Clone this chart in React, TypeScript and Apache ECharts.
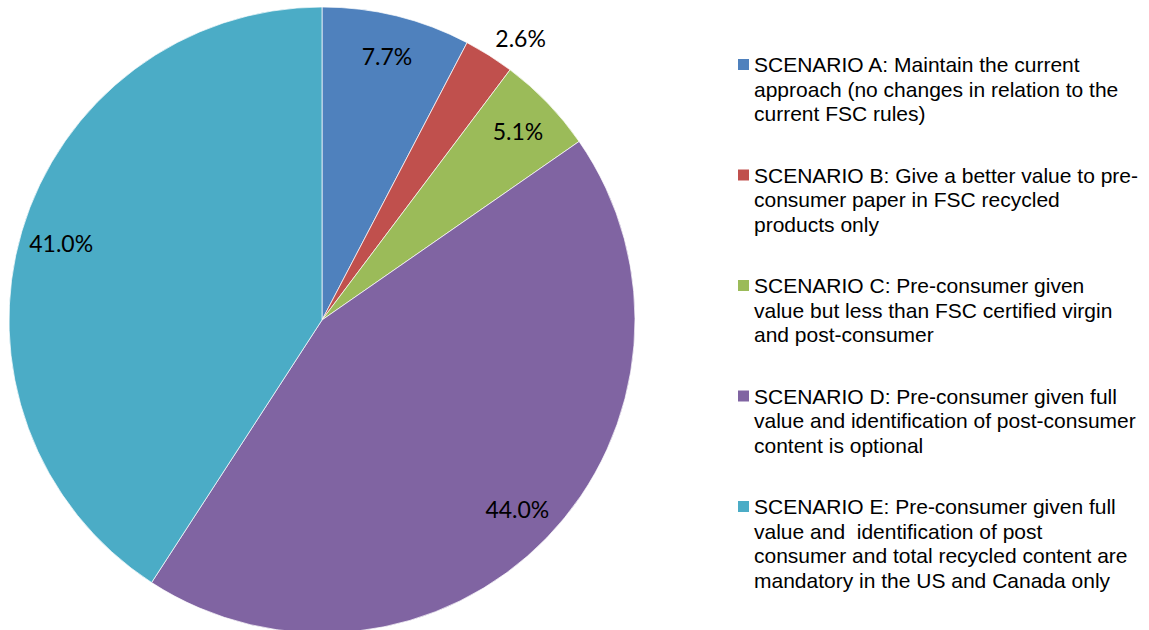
import React, { useEffect, useRef } from "react";
import * as echarts from "echarts";

const names = [
  "SCENARIO A: Maintain the current approach (no changes in relation to the current FSC rules)",
  "SCENARIO B: Give a better value to pre-consumer paper in FSC recycled products only",
  "SCENARIO C: Pre-consumer given value but less than FSC certified virgin and post-consumer",
  "SCENARIO D: Pre-consumer given full value and identification of post-consumer content is optional",
  "SCENARIO E: Pre-consumer given full value and identification of post consumer and total recycled content are mandatory in the US and Canada only",
];
const nameLines = [
  ["SCENARIO A: Maintain the current", "approach (no changes in relation to the", "current FSC rules)"],
  ["SCENARIO B: Give a better value to pre-", "consumer paper in FSC recycled", "products only"],
  ["SCENARIO C: Pre-consumer given", "value but less than FSC certified virgin", "and post-consumer"],
  ["SCENARIO D: Pre-consumer given full", "value and identification of post-consumer", "content is optional"],
  ["SCENARIO E: Pre-consumer given full", "value and  identification of post", "consumer and total recycled content are", "mandatory in the US and Canada only"],
];
const values = [7.7, 2.6, 5.1, 44.0, 41.0];
const colors = ["#4F81BD", "#C0504D", "#9BBB59", "#8064A2", "#4BACC6"];
const outsideLabel = [false, true, false, false, false];

export default function App() {
  const ref = useRef<HTMLDivElement>(null);
  useEffect(() => {
    if (!ref.current) return;
    const chart = echarts.init(ref.current, null, { renderer: "svg" });
    const rich: any = {
      t: { fontSize: 21, fontFamily: "Liberation Sans", lineHeight: 24.5, color: "#000" },
      gap: { width: 5, lineHeight: 24.5 },
      ind: { width: 16, lineHeight: 24.5 },
    };
    colors.forEach((c, i) => {
      rich["sq" + i] = { width: 11, height: 11, backgroundColor: c, lineHeight: 24.5 };
    });
    chart.setOption({
      animation: false,
      color: colors,
      legend: {
        orient: "vertical",
        left: 728,
        top: 49,
        itemGap: 40.5,
        icon: "none",
        itemWidth: 0,
        selectedMode: false,
        data: names,
        formatter: (name: string) => {
          const i = names.indexOf(name);
          return nameLines[i]
            .map((l, j) => (j === 0 ? `{sq${i}|}{gap|}` : `{ind|}`) + `{t|${l}}`)
            .join("\n");
        },
        textStyle: { fontFamily: "Liberation Sans", fontSize: 21, rich },
      },
      series: [
        {
          type: "pie",
          center: [322, 320],
          radius: [0, 313],
          startAngle: 90,
          clockwise: true,
          silent: true,
          label: { show: false },
          labelLine: { show: false },
          itemStyle: { borderColor: "#fff", borderWidth: 0.7 },
          data: names.map((n, i) => ({ name: n, value: values[i], itemStyle: { color: colors[i] } })),
        },
        {
          type: "pie",
          center: [322, 320],
          radius: [225, 313],
          startAngle: 90,
          clockwise: true,
          silent: true,
          avoidLabelOverlap: false,
          itemStyle: { color: "rgba(0,0,0,0)" },
          emphasis: { disabled: true },
          label: {
            show: true,
            position: "inside",
            fontFamily: "Lato",
            fontSize: 23,
            color: "#000",
            formatter: (p: any) => p.value.toFixed(1) + "%",
          },
          labelLine: { show: false },
          data: names.map((n, i) =>
            outsideLabel[i]
              ? {
                  name: n,
                  value: values[i],
                  label: { position: "outside", distanceToLabelLine: -5 },
                  labelLine: { show: false, length: 21, length2: 0 },
                }
              : { name: n, value: values[i] }
          ),
        },
      ],
    });
    return () => chart.dispose();
  }, []);
  return (
    <div
      ref={ref}
      style={{ position: "fixed", left: 0, top: 0, width: 1149, height: 630, background: "#fff" }}
    />
  );
}
